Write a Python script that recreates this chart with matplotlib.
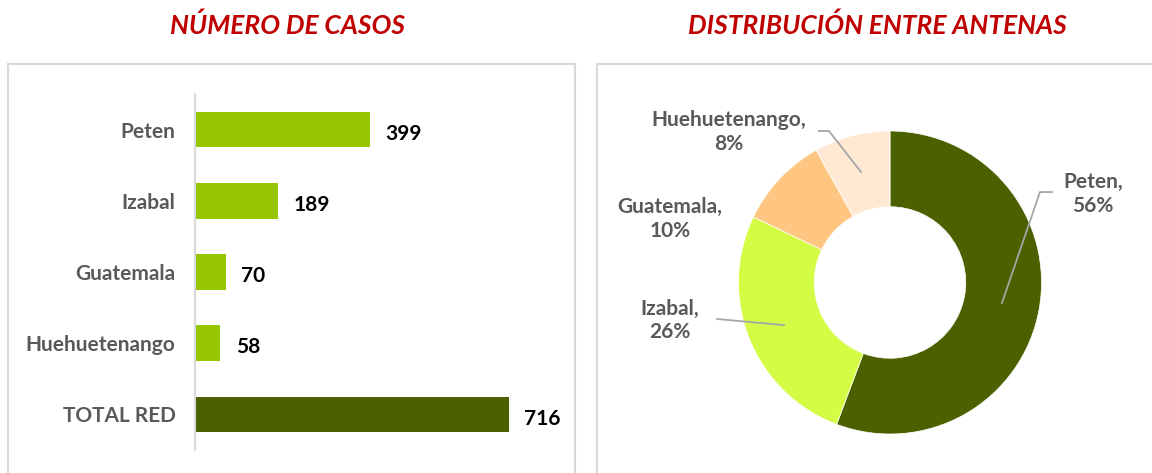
import matplotlib.pyplot as plt
from matplotlib.patches import Rectangle

# data
categorias = ['Peten', 'Izabal', 'Guatemala', 'Huehuetenango', 'TOTAL RED']
casos = [399, 189, 70, 58, 716]
antenas = ['Peten', 'Izabal', 'Guatemala', 'Huehuetenango']
casos_antena = [399, 189, 70, 58]

plt.rcParams['font.family'] = ['Lato', 'DejaVu Sans']

W, H = 1152, 473
fig = plt.figure(figsize=(W / 100, H / 100), dpi=100)


def fx(px):
    return px / W


def fy(py):
    return 1 - py / H


# frames around both panels
for x0, x1 in [(8, 575), (597, 1160)]:
    fig.patches.append(Rectangle((fx(x0), fy(490)), fx(x1 - x0), (490 - 64) / H,
                                 transform=fig.transFigure, fill=False,
                                 edgecolor='#D9D9D9', linewidth=1.5, clip_on=False))

fig.text(fx(288), fy(25), 'NÚMERO DE CASOS', ha='center', va='center',
         color='#C00000', fontsize=19, fontweight='bold', fontstyle='italic')
fig.text(fx(877), fy(25), 'DISTRIBUCIÓN ENTRE ANTENAS', ha='center', va='center',
         color='#C00000', fontsize=19, fontweight='bold', fontstyle='italic')

# bar chart
ax = fig.add_axes([fx(195), fy(450), fx(365), (450 - 94) / H])
colores_barras = ['#95C600'] * 4 + ['#4B6100']
y = range(len(categorias))
ax.barh(y, casos, height=0.5, color=colores_barras)
ax.set_ylim(len(categorias) - 0.5, -0.5)
ax.set_xlim(0, 832)
ax.set_yticks(list(y))
ax.set_yticklabels(categorias, color='#595959', fontsize=15, fontweight='bold')
ax.tick_params(axis='y', length=0, pad=14)
ax.set_xticks([])
for s in ['top', 'right', 'bottom']:
    ax.spines[s].set_visible(False)
ax.spines['left'].set_color('#D9D9D9')
ax.spines['left'].set_linewidth(1.5)
for i, v in enumerate(casos):
    ax.annotate(str(v), (v, i), xytext=(11, -3), textcoords='offset points',
                ha='left', va='center', fontsize=15, fontweight='bold', color='black')

# donut chart
S = 440
R = 151.5
ax2 = fig.add_axes([fx(890 - S / 2), fy(282.5 + S / 2), fx(S), S / H])
colores_dona = ['#4B6100', '#D4FC45', '#FEC680', '#FFE9D2']
ax2.pie(casos_antena, colors=colores_dona, startangle=90, counterclock=False,
        wedgeprops=dict(width=0.5, edgecolor='white', linewidth=0.5))
lim = (S / 2) / R
ax2.set_xlim(-lim, lim)
ax2.set_ylim(-lim, lim)

total = sum(casos_antena)
pos_etiquetas = [(1.340, 0.584), (-1.452, -0.248), (-1.452, 0.419), (-1.063, 0.993)]
lineas = [
    [(0.739, -0.135), (0.990, 0.597), (1.069, 0.597)],
    [(-0.700, -0.281), (-1.142, -0.241)],
    None,
    [(-0.191, 0.729), (-0.403, 1.0), (-0.469, 1.0)],
]
for nombre, v, (lx, ly), ln in zip(antenas, casos_antena, pos_etiquetas, lineas):
    pct = round(v / total * 100)
    ax2.text(lx, ly, f'{nombre},\n{pct}%', ha='center', va='center', color='#595959',
             fontsize=15, fontweight='bold', linespacing=1.2)
    if ln:
        xs, ys = zip(*ln)
        ax2.plot(xs, ys, color='#A6A6A6', linewidth=1.3)

fig.savefig('out.png', dpi=100)
